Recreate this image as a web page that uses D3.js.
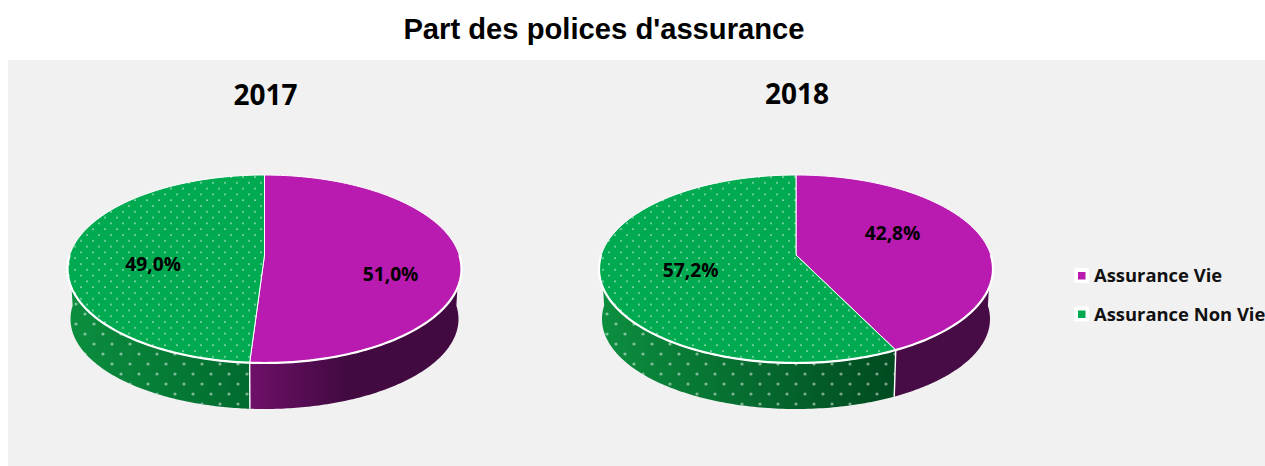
<!DOCTYPE html>
<html>
<head>
<meta charset="utf-8">
<script src="https://cdn.jsdelivr.net/npm/d3@7/dist/d3.min.js"></script>
<style>
html,body{margin:0;padding:0;background:#fff;overflow:hidden}
svg{display:block}
</style>
</head>
<body>
<svg id="c" width="1265" height="466"></svg>
<script>
// ---- data ----
const chartTitle = "Part des polices d'assurance";
const years = ["2017", "2018"];
const categories = ["Assurance Vie", "Assurance Non Vie"];
const values2017 = [51.0, 49.0];
const values2018 = [42.8, 57.2];
const seriesColors = ["#b91ab0", "#00aa50"];

// ---- layout ----
const W = 1265, H = 466;
const centers = [264.5, 796];
const titleY = [105, 104];
const rx = 197, ry = 94, cy = 269, hubY = 255;
const botRx = 194, botRy = 90, botCy = 319;
const wallStart = 81.5 * Math.PI / 180, wallEnd = 278.5 * Math.PI / 180;
// label anchor offsets from the hub, as fractions of rx / ry
const labelAt = [
  [[0.64, 0.21], [-0.565, 0.10]],
  [[0.49, -0.23], [-0.535, 0.16]]
];
const sideStops = [
  { green: ["#0c8f3f", "#006b2e"], purple: ["#6e1069", "#430a42"], split: 0.47 },
  { green: ["#0c8f3f", "#004a20"], purple: ["#470b45", "#470b45"], split: 0.75 }
];

const svg = d3.select("#c");
const defs = svg.append("defs");
const fmt = v => d3.format(".1f")(v).replace(".", ",") + "%";
// perspective foreshortening of the painted angle
const warp = t => t + 0.1 * Math.sin(2 * t);

const topPat = defs.append("pattern").attr("id", "dotsTop").attr("patternUnits", "userSpaceOnUse")
  .attr("width", 12).attr("height", 11.6);
topPat.append("rect").attr("width", 12).attr("height", 11.6).attr("fill", seriesColors[1]);
[[3, 3], [9, 8.8]].forEach(p => topPat.append("circle").attr("cx", p[0]).attr("cy", p[1]).attr("r", 0.85)
  .attr("fill", "#fff").attr("opacity", 0.75));
const sidePat = defs.append("pattern").attr("id", "dotsSide").attr("patternUnits", "userSpaceOnUse")
  .attr("width", 18).attr("height", 20);
[[4, 4], [13, 14]].forEach(p => sidePat.append("circle").attr("cx", p[0]).attr("cy", p[1]).attr("r", 1.6)
  .attr("fill", "#fff").attr("opacity", 0.48));

svg.append("rect").attr("x", 8).attr("y", 60).attr("width", W - 8).attr("height", H - 60).attr("fill", "#f1f1f1");
svg.append("text").attr("x", 604).attr("y", 39).attr("text-anchor", "middle")
  .attr("font-family", "Liberation Sans").attr("font-weight", 700).attr("font-size", 29.2)
  .attr("fill", "#000").text(chartTitle);

const pie = d3.pie().sort(null).value(d => d);
const line = d3.line();

[values2017, values2018].forEach((vals, i) => {
  const cx = centers[i];
  const x = d3.scaleLinear().domain([-1, 1]).range([cx - rx, cx + rx]);
  const y = d3.scaleLinear().domain([-1, 1]).range([cy - ry, cy + ry]);
  const bx = d3.scaleLinear().domain([-1, 1]).range([cx - botRx, cx + botRx]);
  const by = d3.scaleLinear().domain([-1, 1]).range([botCy - botRy, botCy + botRy]);
  const topPt = t => [x(Math.sin(t)), y(-Math.cos(t))];
  const botPt = t => [bx(Math.sin(t)), by(-Math.cos(t))];
  const samples = (a, b) => d3.range(0, 121).map(k => a + (b - a) * k / 120);
  const arcs = pie(vals).map(d => ({ ...d, a0: warp(d.startAngle), a1: warp(d.endAngle) }));

  const g = svg.append("g");
  g.append("text").attr("x", cx + 1).attr("y", titleY[i]).attr("text-anchor", "middle")
    .attr("font-family", "Open Sans").attr("font-weight", 700).attr("font-size", 28)
    .attr("fill", "#000").text(years[i]);

  // gradients for the wall
  const mk = (id, c) => {
    const gr = defs.append("linearGradient").attr("id", id).attr("gradientUnits", "userSpaceOnUse")
      .attr("x1", c.x1).attr("x2", c.x2).attr("y1", 0).attr("y2", 0);
    gr.append("stop").attr("offset", 0).attr("stop-color", c.c[0]);
    gr.append("stop").attr("offset", 1).attr("stop-color", c.c[1]);
  };
  const div = topPt(arcs[0].a1)[0];
  mk("sideG" + i, { x1: cx - rx, x2: div, c: sideStops[i].green });
  mk("sideP" + i, { x1: div, x2: div + rx * sideStops[i].split, c: sideStops[i].purple });

  // walls
  arcs.forEach((d, k) => {
    const a = Math.max(d.a0, wallStart), b = Math.min(d.a1, wallEnd);
    if (b <= a) return;
    const poly = samples(a, b).map(topPt).concat(samples(a, b).reverse().map(botPt));
    g.append("path").attr("d", line(poly) + "Z").attr("fill", `url(#${k ? "sideG" : "sideP"}${i})`);
    if (k === 1) g.append("path").attr("d", line(poly) + "Z").attr("fill", "url(#dotsSide)");
  });
  g.append("path").attr("d", line([topPt(arcs[0].a1), botPt(arcs[0].a1)]))
    .attr("stroke", "#fff").attr("stroke-width", 1.4).attr("fill", "none");

  // top faces
  arcs.forEach((d, k) => {
    const rim = samples(d.a0, d.a1).map(topPt);
    g.append("path").attr("d", line([[cx, hubY]].concat(rim)) + "Z")
      .attr("fill", k ? "url(#dotsTop)" : seriesColors[0])
      .attr("stroke", "#fff").attr("stroke-width", 1).attr("stroke-linejoin", "round");
  });
  // bright front rim
  g.append("path").attr("d", line(samples(wallStart, wallEnd).map(topPt)))
    .attr("fill", "none").attr("stroke", "#fff").attr("stroke-width", 2.2);

  // value labels
  arcs.forEach((d, k) => {
    g.append("text").attr("x", cx + labelAt[i][k][0] * rx).attr("y", hubY + labelAt[i][k][1] * ry)
      .attr("dy", "0.35em").attr("text-anchor", "middle")
      .attr("font-family", "Open Sans").attr("font-weight", 700).attr("font-size", 19.2)
      .attr("fill", "#000").text(fmt(vals[k]));
  });
});

// legend
const ly = d3.scalePoint().domain(categories).range([276, 314.5]);
const lg = svg.append("g").selectAll("g").data(categories).join("g")
  .attr("transform", d => `translate(1074,${ly(d)})`);
lg.append("rect").attr("x", 0).attr("y", -8).attr("width", 15).attr("height", 15).attr("rx", 2).attr("fill", "#fff");
lg.append("rect").attr("x", 4).attr("y", -4).attr("width", 7.5).attr("height", 7.5)
  .attr("fill", (d, i) => seriesColors[i]);
lg.append("text").attr("x", 20).attr("y", 0).attr("dy", "0.35em")
  .attr("font-family", "Open Sans").attr("font-weight", 700).attr("font-size", 18.4)
  .attr("fill", "#111").text(d => d);
</script>
</body>
</html>
